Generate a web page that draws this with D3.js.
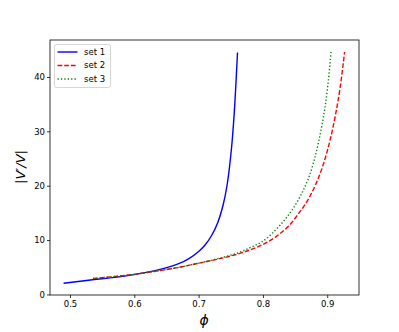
<!DOCTYPE html>
<meta charset="utf-8">
<style>
body { margin: 0; background: #fff; }
text { font-family: "DejaVu Sans", sans-serif; }
</style>
<svg width="399" height="332"></svg>
<script src="https://d3js.org/d3.v7.min.js"></script>
<script>

// values
var set1Phi = [0.49, 0.535, 0.57, 0.60, 0.64, 0.67, 0.685, 0.70, 0.71, 0.72, 0.73, 0.738, 0.744, 0.748, 0.752, 0.756, 0.7605];
var set1Val = [2.07, 2.7, 3.15, 3.65, 4.6, 5.7, 6.6, 7.9, 9.1, 10.8, 13.3, 16.4, 19.9, 23.4, 28.0, 34.5, 44.5];

var set2Phi = [0.536, 0.57, 0.60, 0.64, 0.67, 0.70, 0.73, 0.76, 0.78, 0.80, 0.82, 0.84, 0.855, 0.87, 0.883, 0.893, 0.903, 0.912, 0.92, 0.927];
var set2Val = [2.94, 3.3, 3.7, 4.4, 5.0, 5.75, 6.5, 7.4, 8.2, 9.2, 10.6, 12.6, 14.8, 17.4, 20.5, 23.6, 27.7, 32.5, 38.0, 44.6];

var set3Phi = [0.536, 0.57, 0.60, 0.64, 0.67, 0.70, 0.73, 0.76, 0.78, 0.80, 0.82, 0.835, 0.848, 0.86, 0.87, 0.879, 0.887, 0.895, 0.901, 0.906];
var set3Val = [2.94, 3.3, 3.7, 4.4, 5.0, 5.75, 6.6, 7.6, 8.6, 9.8, 11.9, 13.9, 16.0, 18.5, 21.1, 24.4, 28.3, 33.3, 38.5, 44.8];

var xTicks = [0.5, 0.6, 0.7, 0.8, 0.9];
var yTicks = [0, 10, 20, 30, 40];
var names = ["set 1", "set 2", "set 3"];
var colors = ["#0000ff", "#ff0000", "#008000"];
var dashes = [null, "4.7,2", "1.3,2.1"];

var svg = d3.select("svg");
var pL = 50, pR = 359, pT = 40, pB = 295;

var x = d3.scaleLinear().domain([0.4689, 0.9494]).range([pL, pR]);
var y = d3.scaleLinear().domain([-0.1, 46.8]).range([pB, pT]);

var series = [
  set1Phi.map(function(p, i) { return [p, set1Val[i]]; }),
  set2Phi.map(function(p, i) { return [p, set2Val[i]]; }),
  set3Phi.map(function(p, i) { return [p, set3Val[i]]; })
];

var line = d3.line()
    .x(function(d) { return x(d[0]); })
    .y(function(d) { return y(d[1]); })
    .curve(d3.curveCatmullRom.alpha(0.5));

svg.append("defs").append("clipPath").attr("id", "clip")
   .append("rect").attr("x", pL).attr("y", pT)
   .attr("width", pR - pL).attr("height", pB - pT);

svg.append("g").attr("clip-path", "url(#clip)")
  .selectAll("path")
  .data(series)
  .enter()
  .append("path")
    .attr("d", line)
    .attr("fill", "none")
    .attr("stroke", function(d, i) { return colors[i]; })
    .attr("stroke-width", 1.4)
    .attr("stroke-dasharray", function(d, i) { return dashes[i]; });

// axes
var xAxis = svg.append("g")
    .attr("transform", "translate(0," + pB + ")")
    .call(d3.axisBottom(x).tickValues(xTicks).tickFormat(d3.format(".1f")).tickSize(3).tickSizeOuter(0));
var yAxis = svg.append("g")
    .attr("transform", "translate(" + pL + ",0)")
    .call(d3.axisLeft(y).tickValues(yTicks).tickFormat(d3.format("d")).tickSize(3).tickSizeOuter(0));

[xAxis, yAxis].forEach(function(a) {
  a.select(".domain").remove();
  a.selectAll("line").attr("stroke", "#000").attr("stroke-width", 0.8);
  a.selectAll("text").attr("font-family", "DejaVu Sans").attr("font-size", 8.5).attr("fill", "#000");
});
xAxis.selectAll("text").attr("dy", "0.71em").attr("y", 6);
yAxis.selectAll("text").attr("x", -5);

// frame
svg.append("rect")
   .attr("x", pL).attr("y", pT)
   .attr("width", pR - pL).attr("height", pB - pT)
   .attr("fill", "none")
   .attr("stroke", "#000")
   .attr("stroke-width", 0.8);

// labels
svg.append("text")
   .attr("x", 204).attr("y", 325)
   .attr("text-anchor", "middle")
   .attr("font-style", "italic")
   .attr("font-size", 14)
   .text("\u03d5");

svg.append("text")
   .attr("transform", "translate(25,167) rotate(-90)")
   .attr("text-anchor", "middle")
   .attr("font-style", "italic")
   .attr("font-size", 13)
   .text("|V\u2032/V|");

// legend
var lg = svg.append("g");
lg.append("rect")
  .attr("x", 54.5).attr("y", 44.5)
  .attr("width", 56).attr("height", 43)
  .attr("rx", 2)
  .attr("fill", "#fff").attr("fill-opacity", 0.8)
  .attr("stroke", "#ccc").attr("stroke-width", 0.8);

names.forEach(function(n, i) {
  var yy = 52 + i * 13.5;
  lg.append("line")
    .attr("x1", 57.5).attr("x2", 77.5)
    .attr("y1", yy).attr("y2", yy)
    .attr("stroke", colors[i])
    .attr("stroke-width", 1.4)
    .attr("stroke-dasharray", dashes[i]);
  lg.append("text")
    .attr("x", 84).attr("y", yy)
    .attr("dy", "0.35em")
    .attr("font-size", 8.5)
    .text(n);
});

</script>
